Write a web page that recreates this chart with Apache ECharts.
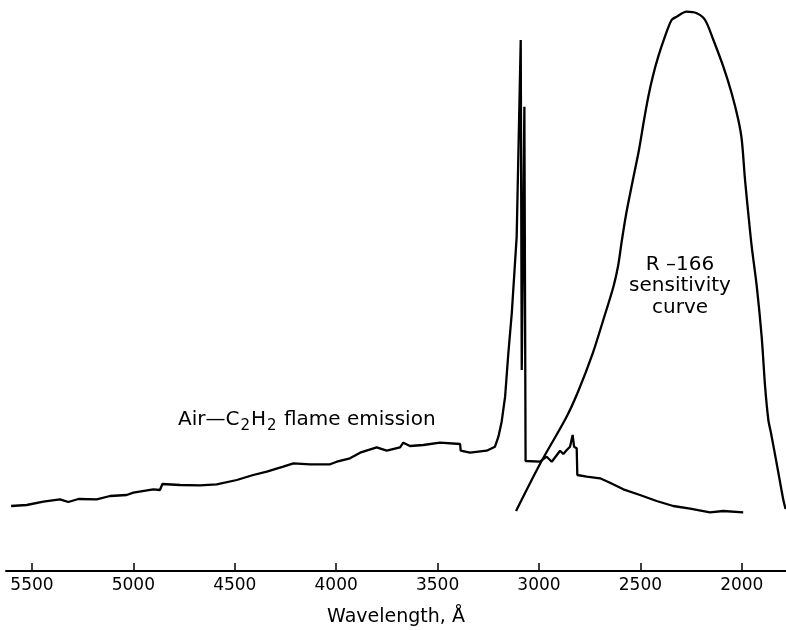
<!DOCTYPE html>
<html>
<head>
<meta charset="utf-8">
<script src="https://cdn.jsdelivr.net/npm/echarts@6/dist/echarts.min.js"></script>
<style>
html,body{margin:0;padding:0;background:#fff;}
#chart{width:786px;height:630px;}
</style>
</head>
<body>
<div id="chart"></div>
<script>
// Wavelength ticks (Å)
const tickValues = [2000, 2500, 3000, 3500, 4000, 4500, 5000, 5500];

// Air–C2H2 flame emission (relative intensity, arbitrary units)
const emissionWl = [5603, 5526, 5444, 5362, 5321, 5271, 5181, 5115, 5033, 5000, 4902, 4869, 4857, 4770, 4671, 4589, 4490, 4409, 4342, 4261, 4211, 4129, 4030, 3997, 3932, 3882, 3800, 3751, 3685, 3669, 3636, 3570, 3488, 3389, 3386, 3340, 3258, 3217, 3200, 3184, 3167, 3151, 3134, 3110, 3090, 3085, 3072, 3066, 2995, 2962, 2937, 2896, 2880, 2863, 2847, 2834, 2827, 2814, 2811, 2765, 2699, 2650, 2584, 2502, 2420, 2338, 2255, 2157, 2091, 1993];
const emissionVal = [65, 66, 69.3, 71.7, 69, 72, 71.7, 75, 76, 78.3, 81.7, 81, 87, 86, 85.7, 86.7, 91, 96, 99.3, 104.3, 107.7, 106.7, 106.7, 109.3, 112.7, 118.3, 123.7, 120.3, 123.7, 128.3, 125, 126, 128.3, 127, 120.3, 118.3, 120.3, 124.3, 134.3, 149.3, 174.3, 218, 258, 334.3, 531, 201, 464.3, 110, 109.3, 114.3, 109.3, 120.3, 117, 121, 124.3, 136, 124.3, 122.7, 96, 94.3, 92.7, 88.3, 81.7, 76, 70, 65, 62.3, 58.7, 60, 58.7];

// R-166 sensitivity curve (relative, arbitrary units)
const sensWl = [3113, 2995, 2867, 2808, 2735, 2683, 2633, 2610, 2591, 2571, 2549, 2527, 2507, 2482, 2461, 2439, 2412, 2379, 2346, 2321, 2272, 2222, 2181, 2140, 2091, 2050, 2017, 2000, 1984, 1968, 1951, 1926, 1902, 1885, 1869, 1856, 1825, 1795, 1784];
const sensVal = [60, 107, 153, 179, 217.7, 251, 284.3, 305, 331, 356, 379, 401, 421, 451, 474.3, 494.3, 514.3, 534.3, 551, 554.3, 559.3, 557.7, 551, 531, 504.3, 477.7, 451, 431, 391, 357.7, 324.3, 284.3, 234.3, 184.3, 151, 138, 104.3, 71, 62];

const chart = echarts.init(document.getElementById('chart'), null, {renderer: 'canvas'});
const font = 'DejaVu Sans';
const zip = (a, b) => a.map((v, i) => [v, b[i]]);

chart.setOption({
  animation: false,
  backgroundColor: '#fff',
  grid: {left: 6, right: 0, top: 11, bottom: 59, containLabel: false, outerBoundsMode: 'none'},
  xAxis: {
    type: 'value',
    inverse: true,
    min: 1782,
    max: 5628,
    name: 'Wavelength, Å',
    nameLocation: 'middle',
    nameGap: 37,
    nameTextStyle: {color: '#000', fontFamily: font, fontSize: 19},
    axisLine: {show: true, lineStyle: {color: '#000', width: 2}},
    axisTick: {show: true, inside: true, length: 8, lineStyle: {color: '#000', width: 1.5}, customValues: tickValues},
    axisLabel: {color: '#000', fontFamily: font, fontSize: 17, margin: 6, customValues: tickValues, formatter: v => String(v)},
    splitLine: {show: false}
  },
  yAxis: {
    type: 'value', min: 0, max: 560, show: false, splitLine: {show: false}
  },
  series: [
    {
      type: 'line', name: 'Air–C2H2 flame emission',
      data: zip(emissionWl, emissionVal),
      showSymbol: false, smooth: false,
      lineStyle: {color: '#000', width: 2.3}
    },
    {
      type: 'line', name: 'R-166 sensitivity curve',
      data: zip(sensWl, sensVal),
      showSymbol: false, smooth: 0.3,
      lineStyle: {color: '#000', width: 2.3}
    }
  ],
  graphic: [
    {type: 'text', left: 178, top: 410, style: {
      text: '{t|Air—C}{s|2}{t|H}{s|2}{t| flame emission}',
      rich: {
        t: {fill: '#000', fontFamily: font, fontSize: 20, lineHeight: 26, verticalAlign: 'bottom', padding: [0, 0, 4, 0]},
        s: {fill: '#000', fontFamily: font, fontSize: 15, lineHeight: 26, verticalAlign: 'bottom', padding: [0, 1, 0, 1]}
      }
    }},
    {type: 'text', x: 680, y: 254, style: {text: 'R –166\nsensitivity\ncurve', fill: '#000', font: '20px "DejaVu Sans"', align: 'center', lineHeight: 21.5}}
  ]
});
</script>
</body>
</html>
